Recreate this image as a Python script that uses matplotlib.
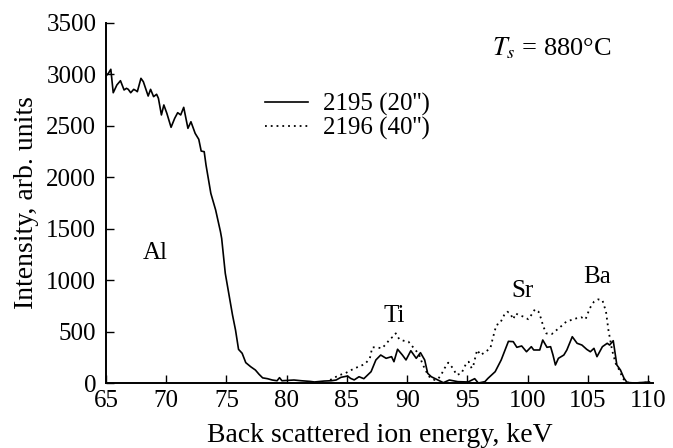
import matplotlib
matplotlib.use("Agg")
import matplotlib.pyplot as plt

# ---- data ----
energy_2195 = [65.0, 65.2, 65.4, 65.6, 65.9, 66.2, 66.5, 66.7, 66.85, 67.05, 67.3, 67.5, 67.6, 67.9, 68.1,
               68.5, 68.7, 68.95, 69.2, 69.35, 69.6, 69.8, 70.05, 70.4, 70.7, 70.95, 71.2, 71.45, 71.8, 72.05,
               72.4, 72.7, 72.9, 73.15, 73.3, 73.7, 74.1, 74.5, 74.6, 74.9, 75.5, 75.75, 76.0, 76.3, 76.6,
               77.0, 77.4, 77.7, 78.0, 78.4, 78.8, 79.2, 79.4, 79.6, 80.6, 81.2, 81.9, 82.3, 83.1, 83.7,
               84.1, 84.5, 85.05, 85.3, 85.6, 86.0, 86.4, 87.0, 87.4, 87.8, 88.25, 88.7, 88.9, 89.2, 89.6,
               89.9, 90.3, 90.75, 91.1, 91.45, 91.7, 92.0, 92.55, 93.0, 93.5, 94.2, 95.05, 95.6, 95.9, 96.45,
               96.7, 97.3, 97.8, 98.4, 98.8, 99.1, 99.5, 99.9, 100.3, 100.5, 101.0, 101.25, 101.6, 101.9, 102.1,
               102.3, 102.55, 103.0, 103.25, 103.7, 104.1, 104.5, 104.9, 105.2, 105.5, 105.75, 106.2, 106.6,
               106.8, 107.1, 107.4, 107.7, 108.0, 108.25, 108.9, 109.5, 110.1]
intensity_2195 = [2985, 3011, 3050, 2822, 2897, 2939, 2849, 2865, 2855, 2822, 2855, 2842, 2832, 2962, 2929,
                  2790, 2855, 2784, 2807, 2768, 2606, 2703, 2622, 2486, 2573, 2628, 2606, 2680, 2476, 2540,
                  2427, 2369, 2255, 2249, 2120, 1844, 1682, 1471, 1406, 1066, 661, 515, 327, 289, 198,
                  159, 126, 85, 50, 42, 29, 22, 52, 22, 29, 22, 16, 10, 19, 22,
                  29, 55, 68, 45, 30, 61, 42, 110, 224, 272, 240, 256, 207, 328, 272,
                  224, 314, 240, 295, 224, 94, 61, 29, 3, 29, 13, 10, 42, 0, 13,
                  45, 110, 224, 405, 402, 347, 360, 304, 353, 321, 321, 418, 347, 353, 272,
                  175, 240, 272, 321, 450, 386, 369, 327, 304, 337, 256, 353, 386,
                  369, 411, 175, 126, 45, 5, 0, 5, 10]

energy_2196 = [83.6, 84.0, 84.4, 84.85, 85.25, 85.65, 86.1, 86.5, 86.9, 87.1, 87.45, 87.9, 88.3, 88.6, 88.85,
               89.05, 89.35, 89.7, 90.1, 90.45, 90.8, 91.0, 91.2, 91.5, 91.9, 92.3, 92.6, 92.85, 93.1, 93.4,
               93.8, 94.1, 94.5, 94.9, 95.1, 95.35, 95.5, 95.8, 96.1, 96.5, 96.9, 97.1, 97.4, 97.7, 98.05,
               98.3, 98.55, 98.8, 99.0, 99.25, 99.65, 100.05, 100.3, 100.6, 100.9, 101.1, 101.3, 101.55, 102.0,
               102.4, 102.8, 103.2, 103.6, 104.05, 104.45, 104.8, 105.15, 105.5, 105.85, 106.2, 106.5, 106.7,
               107.0, 107.3, 107.6, 107.9, 108.2, 108.9, 110.1]
intensity_2196 = [29, 55, 78, 94, 120, 143, 165, 185, 240, 347, 347, 337, 386, 434, 450,
                  483, 424, 411, 402, 353, 304, 272, 207, 126, 50, 29, 45, 87, 143, 198,
                  143, 78, 94, 191, 207, 143, 175, 321, 272, 304, 337, 434, 564, 580, 661,
                  693, 677, 619, 677, 661, 645, 620, 661, 716, 693, 629, 548, 482, 476,
                  515, 554, 596, 612, 629, 639, 619, 726, 790, 813, 806, 693, 515,
                  321, 191, 126, 45, 5, 0, 5]

series_labels = ["2195 (20'')", "2196 (40'')"]
x_ticks = [65, 70, 75, 80, 85, 90, 95, 100, 105, 110]
y_ticks = [0, 500, 1000, 1500, 2000, 2500, 3000, 3500]
x_label = "Back scattered ion energy, keV"
y_label = "Intensity, arb. units"
peak_labels = ["Al", "Ti", "Sr", "Ba"]
peak_pos = [(69.1, 1264), (88.9, 651), (99.55, 894), (105.8, 1030)]

plt.rcParams['font.family'] = ['Liberation Serif', 'DejaVu Serif']
plt.rcParams['mathtext.fontset'] = 'stix'
FS = 18
FS_LAB = 20

fig = plt.figure(figsize=(6.73, 4.48), dpi=100)
ax = fig.add_axes([106 / 673, 1 - 383 / 448, (653 - 106) / 673, (383 - 23) / 448])

ax.plot(energy_2195, intensity_2195, color='black', lw=1.2, label=series_labels[0])
ax.plot(energy_2196, intensity_2196, color='black', lw=1.3, linestyle=(0, (1, 2.2)), label=series_labels[1])

ax.set_xlim(65, 110.4)
ax.set_ylim(0, 3500)
ax.set_xticks(x_ticks)
ax.set_yticks(y_ticks)
ax.tick_params(direction='in', length=6, width=1, labelsize=FS)
ax.tick_params(axis='x', pad=5)
ax.tick_params(axis='y', pad=7)
for s in ['top', 'right']:
    ax.spines[s].set_visible(False)
for s in ['left', 'bottom']:
    ax.spines[s].set_linewidth(1.4)

ax.set_xlabel(x_label, fontsize=FS_LAB, labelpad=8)
ax.set_ylabel(y_label, fontsize=FS_LAB, labelpad=5)

for lab, (xx, yy) in zip(peak_labels, peak_pos):
    ax.text(xx, yy, lab, fontsize=FS, ha='center', va='center')

ax.text(101.95, 3257, r'$T_s$ = 880°C', fontsize=FS + 1, ha='center', va='center')

ax.legend(loc='upper left', bbox_to_anchor=(0.2907, 0.805), frameon=False, fontsize=FS,
          handlelength=1.72, handletextpad=0.59, labelspacing=0.04, borderaxespad=0, borderpad=0)

fig.savefig('out.png', dpi=100)
